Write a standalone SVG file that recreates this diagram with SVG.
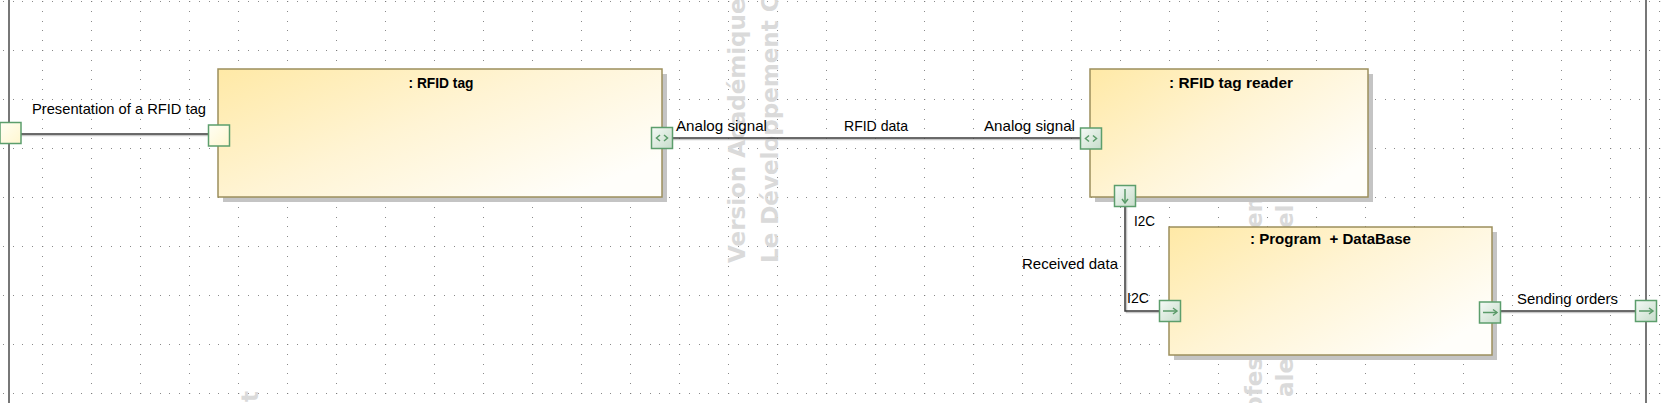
<svg xmlns="http://www.w3.org/2000/svg" width="1663" height="403" viewBox="0 0 1663 403">
<defs>
<style>
.lbl{font-family:"Liberation Sans",Arial,sans-serif;font-size:14.5px;fill:#000}
.ttl{font-family:"Liberation Sans",Arial,sans-serif;font-size:14px;font-weight:bold;fill:#000}
.wm{font-family:"DejaVu Sans",Verdana,sans-serif;font-size:23px;font-weight:bold;fill:#dadada}
.box{fill:url(#boxGrad);stroke:#9c8f5c;stroke-width:1.5}
.shadow{fill:#c4c4c4}
.port{fill:url(#portGrad);stroke:#5c9e6c;stroke-width:1.5}
.yport{fill:url(#yportGrad);stroke:#5c9e6c;stroke-width:1.5}
.icon{fill:none;stroke:#5a9a68;stroke-width:1.5}
.conn{fill:none;stroke:#3a3a3a;stroke-width:1.5}
.connsh{fill:none;stroke:#c8c8c8;stroke-width:1.5}
.frame{stroke:#555;stroke-width:1.6}
</style>
<linearGradient id="boxGrad" x1="0" y1="0" x2="1" y2="0.7">
<stop offset="0" stop-color="#ffe9a6"/>
<stop offset="0.5" stop-color="#fff4d4"/>
<stop offset="1" stop-color="#fffefa"/>
</linearGradient>
<linearGradient id="portGrad" x1="0" y1="0" x2="1" y2="1">
<stop offset="0" stop-color="#f5faf6"/>
<stop offset="1" stop-color="#c6dcca"/>
</linearGradient>
<linearGradient id="yportGrad" x1="0" y1="0" x2="1" y2="1">
<stop offset="0" stop-color="#fffff4"/>
<stop offset="1" stop-color="#fff6cf"/>
</linearGradient>
<pattern id="grid" patternUnits="userSpaceOnUse" x="42" y="1" width="49" height="49">
<rect x="0" y="0" width="1.2" height="1" fill="#7a7a7a"/>
<rect x="10" y="0" width="1" height="1" fill="#8a8a8a"/>
<rect x="20" y="0" width="1" height="1" fill="#8a8a8a"/>
<rect x="29" y="0" width="1" height="1" fill="#8a8a8a"/>
<rect x="39" y="0" width="1" height="1" fill="#8a8a8a"/>
<rect x="0" y="10" width="1" height="1" fill="#8a8a8a"/>
<rect x="0" y="20" width="1" height="1" fill="#8a8a8a"/>
<rect x="0" y="29" width="1" height="1" fill="#8a8a8a"/>
<rect x="0" y="39" width="1" height="1" fill="#8a8a8a"/>
</pattern>
<g id="icBi">
<polyline class="icon" points="-2,-3 -5.5,0 -2,3"/>
<polyline class="icon" points="2,-3 5.5,0 2,3"/>
</g>
<g id="icRight">
<line class="icon" x1="-7" y1="0" x2="7" y2="0"/>
<polyline class="icon" points="3,-3 7,0 3,3"/>
</g>
<g id="icDown">
<line class="icon" x1="0" y1="-7" x2="0" y2="7"/>
<polyline class="icon" points="-3,3 0,7 3,3"/>
</g>
</defs>

<rect x="0" y="0" width="1663" height="403" fill="#fff"/>
<rect x="0" y="0" width="1663" height="403" fill="url(#grid)"/>

<g id="watermark">
<text class="wm" transform="translate(745,263) rotate(-90)">Version Académique</text>
<text class="wm" transform="translate(778,263) rotate(-90)">Le Développement C</text>
<text class="wm" transform="translate(1262,412) rotate(-90)">ofes</text>
<text class="wm" transform="translate(1293,397) rotate(-90)">ale</text>
<text class="wm" transform="translate(1262,228) rotate(-90)">em</text>
<text class="wm" transform="translate(1293,228) rotate(-90)">el</text>
<text class="wm" transform="translate(258,402) rotate(-90)">t</text>
</g>

<g id="frame">
<line class="frame" x1="9" y1="0" x2="9" y2="403"/>
<line class="frame" x1="1646" y1="0" x2="1646" y2="403"/>
</g>

<g id="connectors">
<path class="connsh" d="M21,135.5 H208.5"/>
<path class="conn" d="M21,134 H208.5"/>
<path class="connsh" d="M673,139.5 H1080.5"/>
<path class="conn" d="M673,138 H1080.5"/>
<path class="connsh" d="M1126.5,206.5 V312.5 H1159.5"/>
<path class="conn" d="M1125,206.5 V311 H1159.5"/>
<path class="connsh" d="M1501,312.5 H1635.5"/>
<path class="conn" d="M1501,311 H1635.5"/>
<text class="lbl" x="32" y="114" textLength="174" lengthAdjust="spacingAndGlyphs">Presentation of a RFID tag</text>
<text class="lbl" x="676" y="131" textLength="91" lengthAdjust="spacingAndGlyphs">Analog signal</text>
<text class="lbl" x="844" y="131" textLength="64" lengthAdjust="spacingAndGlyphs">RFID data</text>
<text class="lbl" x="984" y="131" textLength="91" lengthAdjust="spacingAndGlyphs">Analog signal</text>
<text class="lbl" x="1134" y="226" textLength="21" lengthAdjust="spacingAndGlyphs">I2C</text>
<text class="lbl" x="1022" y="269" textLength="96" lengthAdjust="spacingAndGlyphs">Received data</text>
<text class="lbl" x="1127" y="303" textLength="22" lengthAdjust="spacingAndGlyphs">I2C</text>
<text class="lbl" x="1517" y="304" textLength="101" lengthAdjust="spacingAndGlyphs">Sending orders</text>
</g>

<g id="rfid-tag">
<rect class="shadow" x="223" y="74" width="444" height="128"/>
<rect class="box" x="218" y="69" width="444" height="128"/>
<text class="ttl" x="441" y="88" text-anchor="middle" textLength="65" lengthAdjust="spacingAndGlyphs">: RFID tag</text>
<rect class="yport" x="208.5" y="125" width="21" height="21"/>
<rect class="port" x="651.5" y="127.5" width="21" height="21"/>
<use href="#icBi" x="662" y="138"/>
</g>

<g id="rfid-tag-reader">
<rect class="shadow" x="1095" y="74" width="278" height="128"/>
<rect class="box" x="1090" y="69" width="278" height="128"/>
<text class="ttl" x="1231" y="88" text-anchor="middle" textLength="124" lengthAdjust="spacingAndGlyphs">: RFID tag reader</text>
<rect class="port" x="1080.5" y="128" width="21" height="21"/>
<use href="#icBi" x="1091" y="138.5"/>
<rect class="port" x="1114.5" y="185.5" width="21" height="21"/>
<use href="#icDown" x="1125" y="196"/>
</g>

<g id="program-database">
<rect class="shadow" x="1174" y="232" width="323" height="128"/>
<rect class="box" x="1169" y="227" width="323" height="128"/>
<text class="ttl" x="1330.5" y="244" text-anchor="middle" textLength="161" lengthAdjust="spacingAndGlyphs">: Program&#160; + DataBase</text>
<rect class="port" x="1159.5" y="300.5" width="21" height="21"/>
<use href="#icRight" x="1170" y="311"/>
<rect class="port" x="1479.5" y="302" width="21" height="21"/>
<use href="#icRight" x="1490" y="312.5"/>
</g>

<g id="boundary-ports">
<rect class="yport" x="0" y="122.5" width="21" height="21"/>
<rect class="port" x="1635.5" y="300.5" width="21" height="21"/>
<use href="#icRight" x="1646" y="311"/>
</g>
</svg>
